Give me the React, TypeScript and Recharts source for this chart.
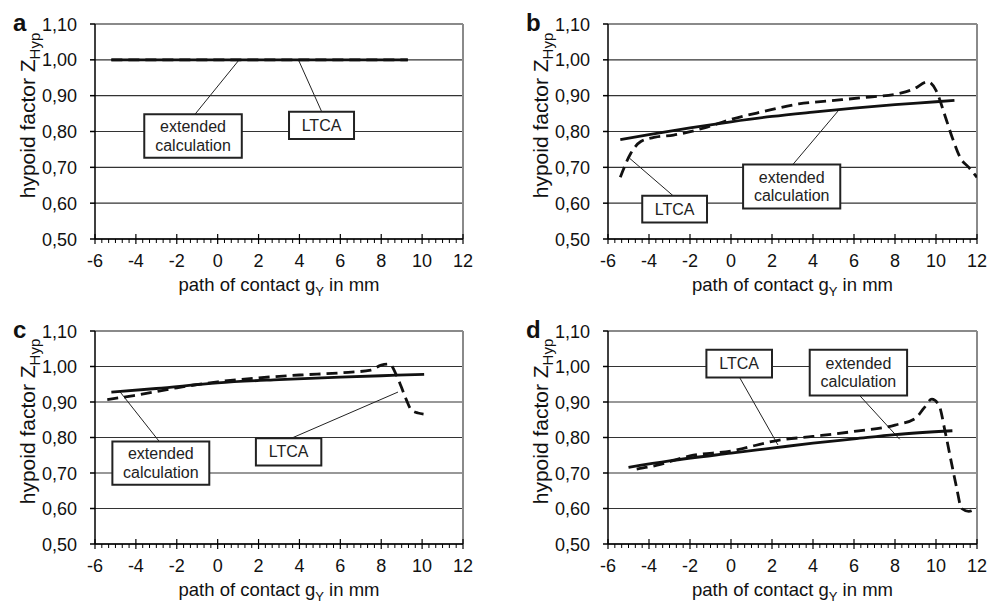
import React from 'react';
import { LineChart, Line, XAxis, YAxis, CartesianGrid, ReferenceLine, ReferenceArea } from 'recharts';

const FONT = '"Liberation Sans", Arial, sans-serif';

// ---- axis ticks ----
const xMajorTicks = [-6, -4, -2, 0, 2, 4, 6, 8, 10, 12];
const yTicks = [0.5, 0.6, 0.7, 0.8, 0.9, 1.0, 1.1];
const yTickLabels = ['0,50', '0,60', '0,70', '0,80', '0,90', '1,00', '1,10'];
const xAllTicks = xMajorTicks.flatMap((t, i) =>
  i < xMajorTicks.length - 1 ? [0, 1, 2, 3, 4, 5].map((k) => t + k / 3) : [t]
);

// ---- panel a ----
const aExtX = [-5.2, 9.3];
const aExtY = [1.0, 1.0];
const aLtcaX = [-5.2, 9.3];
const aLtcaY = [1.0, 1.0];

// ---- panel b ----
const bExtX = [-5.4, -4, -2, 0, 2, 4, 6, 8, 10, 10.9];
const bExtY = [0.777, 0.791, 0.81, 0.827, 0.842, 0.854, 0.865, 0.875, 0.883, 0.887];
const bLtcaX = [-5.4, -4.9, -4.4, -3.7, -2.8, -1.3, 0, 1.6, 3.3, 4.9, 6.5, 8.1, 8.9, 9.6, 10.0, 10.45, 10.8, 11.2, 11.6, 12];
const bLtcaY = [0.672, 0.738, 0.772, 0.784, 0.79, 0.81, 0.834, 0.856, 0.877, 0.886, 0.895, 0.905, 0.918, 0.939, 0.915, 0.842, 0.782, 0.725, 0.7, 0.672];

// ---- panel c ----
const cExtX = [-5.2, -3, 0, 3, 6, 8, 10.1];
const cExtY = [0.928, 0.938, 0.954, 0.963, 0.97, 0.974, 0.978];
const cLtcaX = [-5.4, -4.1, -2, 0, 2, 4, 6, 7.5, 8.0, 8.4, 8.74, 8.98, 9.23, 9.47, 9.8, 10.07];
const cLtcaY = [0.907, 0.918, 0.94, 0.957, 0.968, 0.976, 0.982, 0.99, 1.004, 1.007, 0.976, 0.943, 0.906, 0.878, 0.869, 0.866];

// ---- panel d ----
const dExtX = [-5, -3, 0, 2, 4, 6, 8, 10.8];
const dExtY = [0.716, 0.734, 0.756, 0.77, 0.784, 0.796, 0.808, 0.819];
const dLtcaX = [-4.6, -3.6, -2, 0, 2.3, 4, 6, 8, 9, 9.4, 9.8, 10.15, 10.45, 10.75, 11.0, 11.25, 11.6, 12];
const dLtcaY = [0.711, 0.722, 0.748, 0.762, 0.792, 0.803, 0.817, 0.835, 0.854, 0.882, 0.908, 0.89, 0.815, 0.73, 0.66, 0.6, 0.592, 0.602];

const EXT_LINES = ['extended', 'calculation'];
const LTCA_LINES = ['LTCA'];

type Pt = { x: number; y: number };
const zip = (xs: number[], ys: number[]): Pt[] => xs.map((x, i) => ({ x, y: ys[i] }));

type Ann = { lines: string[]; box: [number, number, number, number]; leader: [number, number, number, number] };

const XTick = (props: any) => {
  const { x, y, payload } = props;
  const v = payload.value;
  const r = Math.round(v);
  const major = Math.abs(v - r) < 1e-6 && r % 2 === 0;
  if (major) {
    return (
      <g>
        <line x1={x} x2={x} y1={y - 5} y2={y + 5} stroke="#000" strokeWidth={1.2} />
        <text x={x} y={y + 28} textAnchor="middle" fontSize={18} fontFamily={FONT} fill="#111">
          {String(r)}
        </text>
      </g>
    );
  }
  return <line x1={x} x2={x} y1={y} y2={y + 4} stroke="#000" strokeWidth={1} />;
};

const YTick = (props: any) => {
  const { x, y, payload } = props;
  const i = yTicks.findIndex((t) => Math.abs(t - payload.value) < 1e-6);
  return (
    <text x={x} y={y} dy={6.5} textAnchor="end" fontSize={18} fontFamily={FONT} fill="#111">
      {i >= 0 ? yTickLabels[i] : ''}
    </text>
  );
};

const XTitle = (props: any) => {
  const vb = props.viewBox || {};
  const cx = vb.x + vb.width / 2;
  const by = vb.y + 52;
  return (
    <text x={cx} y={by} textAnchor="middle" fontSize={18.5} fontFamily={FONT} fill="#111">
      <tspan>path of contact g</tspan>
      <tspan fontSize={13} dy={5}>Y</tspan>
      <tspan dy={-5}> in mm</tspan>
    </text>
  );
};

const YTitle = (props: any) => {
  const vb = props.viewBox || {};
  const bx = vb.x + vb.width - 60;
  const cy = vb.y + vb.height / 2 - 16;
  return (
    <text
      transform={`translate(${bx},${cy}) rotate(-90)`}
      textAnchor="middle"
      fontSize={21}
      fontFamily={FONT}
      fill="#111"
    >
      <tspan>hypoid factor Z</tspan>
      <tspan fontSize={15} dy={5}>Hyp</tspan>
    </text>
  );
};

const BoxText = (props: any) => {
  const { viewBox, lines } = props;
  const { x, y, width, height } = viewBox || {};
  const cx = x + width / 2;
  const cy = y + height / 2;
  const lh = 18.5;
  const start = cy - ((lines.length - 1) * lh) / 2;
  return (
    <text textAnchor="middle" fontSize={16} fontFamily={FONT} fill="#222">
      {lines.map((l: string, i: number) => (
        <tspan key={i} x={cx} y={start + i * lh + 5.5}>
          {l}
        </tspan>
      ))}
    </text>
  );
};

type PanelProps = {
  letter: string;
  left: number;
  top: number;
  width: number;
  height: number;
  margin: { top: number; right: number; bottom: number; left: number };
  yAxisWidth: number;
  solid: Pt[];
  dashed: Pt[];
  anns: Ann[];
};

const Panel = ({ letter, left, top, width, height, margin, yAxisWidth, solid, dashed, anns }: PanelProps) => {
  const plotLeft = margin.left + yAxisWidth;
  return (
    <div style={{ position: 'absolute', left, top, width, height }}>
      <div
        style={{
          position: 'absolute',
          left: plotLeft - 82,
          top: margin.top + 7 - 20.3,
          fontFamily: FONT,
          fontWeight: 'bold',
          fontSize: 24,
          lineHeight: '24px',
          color: '#111',
        }}
      >
        {letter}
      </div>
      <LineChart width={width} height={height} margin={margin} style={{ fontFamily: FONT }}>
        <CartesianGrid vertical={false} stroke="#333" strokeWidth={1.2} />
        <XAxis
          type="number"
          dataKey="x"
          domain={[-6, 12]}
          ticks={xAllTicks}
          interval={0}
          tickSize={0}
          tickMargin={0}
          tickLine={false}
          tick={XTick}
          stroke="#000"
          strokeWidth={1.5}
          height={40}
          allowDataOverflow
          label={<XTitle />}
        />
        <YAxis
          type="number"
          domain={[0.5, 1.1]}
          ticks={yTicks}
          interval={0}
          tickSize={5}
          tickMargin={13}
          tick={YTick}
          stroke="#000"
          strokeWidth={1.5}
          width={yAxisWidth}
          allowDataOverflow
          label={<YTitle />}
        />
        <ReferenceLine y={1.1} stroke="#8a8a8a" strokeWidth={2} />
        <ReferenceLine x={12} stroke="#8a8a8a" strokeWidth={2} />
        {anns.map((a, i) => (
          <ReferenceLine
            key={'l' + i}
            segment={[
              { x: a.leader[0], y: a.leader[1] },
              { x: a.leader[2], y: a.leader[3] },
            ]}
            stroke="#222"
            strokeWidth={1}
            ifOverflow="visible"
          />
        ))}
        {anns.map((a, i) => (
          <ReferenceArea
            key={'b' + i}
            x1={a.box[0]}
            x2={a.box[1]}
            y1={a.box[2]}
            y2={a.box[3]}
            fill="#fff"
            fillOpacity={1}
            stroke="#222"
            strokeWidth={2}
            ifOverflow="visible"
            label={<BoxText lines={a.lines} />}
          />
        ))}
        <Line
          data={solid}
          dataKey="y"
          type="monotone"
          stroke="#111"
          strokeWidth={2.8}
          dot={false}
          activeDot={false}
          isAnimationActive={false}
        />
        <Line
          data={dashed}
          dataKey="y"
          type="monotone"
          stroke="#111"
          strokeWidth={2.8}
          strokeDasharray="11 6"
          dot={false}
          activeDot={false}
          isAnimationActive={false}
        />
      </LineChart>
    </div>
  );
};

export default function App() {
  return (
    <div style={{ position: 'absolute', left: 0, top: 0, width: 998, height: 603, background: '#fff', overflow: 'hidden' }}>
      <Panel
        letter="a"
        left={0}
        top={0}
        width={499}
        height={300}
        margin={{ top: 24, right: 36, bottom: 21, left: 0 }}
        yAxisWidth={95}
        solid={zip(aExtX, aExtY)}
        dashed={zip(aLtcaX, aLtcaY)}
        anns={[
          { lines: EXT_LINES, box: [-3.59, 1.18, 0.727, 0.848], leader: [-1.11, 0.848, 1.05, 1.0] },
          { lines: LTCA_LINES, box: [3.49, 6.67, 0.779, 0.855], leader: [5.09, 0.855, 3.95, 1.0] },
        ]}
      />
      <Panel
        letter="b"
        left={499}
        top={0}
        width={499}
        height={300}
        margin={{ top: 24, right: 21, bottom: 21, left: 0 }}
        yAxisWidth={109}
        solid={zip(bExtX, bExtY)}
        dashed={zip(bLtcaX, bLtcaY)}
        anns={[
          { lines: LTCA_LINES, box: [-4.33, -1.17, 0.546, 0.621], leader: [-2.83, 0.621, -4.94, 0.725] },
          { lines: EXT_LINES, box: [0.59, 5.33, 0.585, 0.708], leader: [3.02, 0.708, 5.22, 0.857] },
        ]}
      />
      <Panel
        letter="c"
        left={0}
        top={300}
        width={499}
        height={303}
        margin={{ top: 31, right: 36, bottom: 19, left: 0 }}
        yAxisWidth={95}
        solid={zip(cExtX, cExtY)}
        dashed={zip(cLtcaX, cLtcaY)}
        anns={[
          { lines: EXT_LINES, box: [-5.15, -0.41, 0.667, 0.789], leader: [-2.86, 0.789, -4.78, 0.929] },
          { lines: LTCA_LINES, box: [1.87, 5.07, 0.721, 0.798], leader: [3.61, 0.798, 8.82, 0.928] },
        ]}
      />
      <Panel
        letter="d"
        left={499}
        top={300}
        width={499}
        height={303}
        margin={{ top: 31, right: 21, bottom: 19, left: 0 }}
        yAxisWidth={109}
        solid={zip(dExtX, dExtY)}
        dashed={zip(dLtcaX, dLtcaY)}
        anns={[
          { lines: LTCA_LINES, box: [-1.2, 2.0, 0.969, 1.047], leader: [0.42, 0.969, 2.29, 0.779] },
          { lines: EXT_LINES, box: [3.84, 8.59, 0.918, 1.047], leader: [6.28, 0.918, 8.23, 0.795] },
        ]}
      />
    </div>
  );
}
